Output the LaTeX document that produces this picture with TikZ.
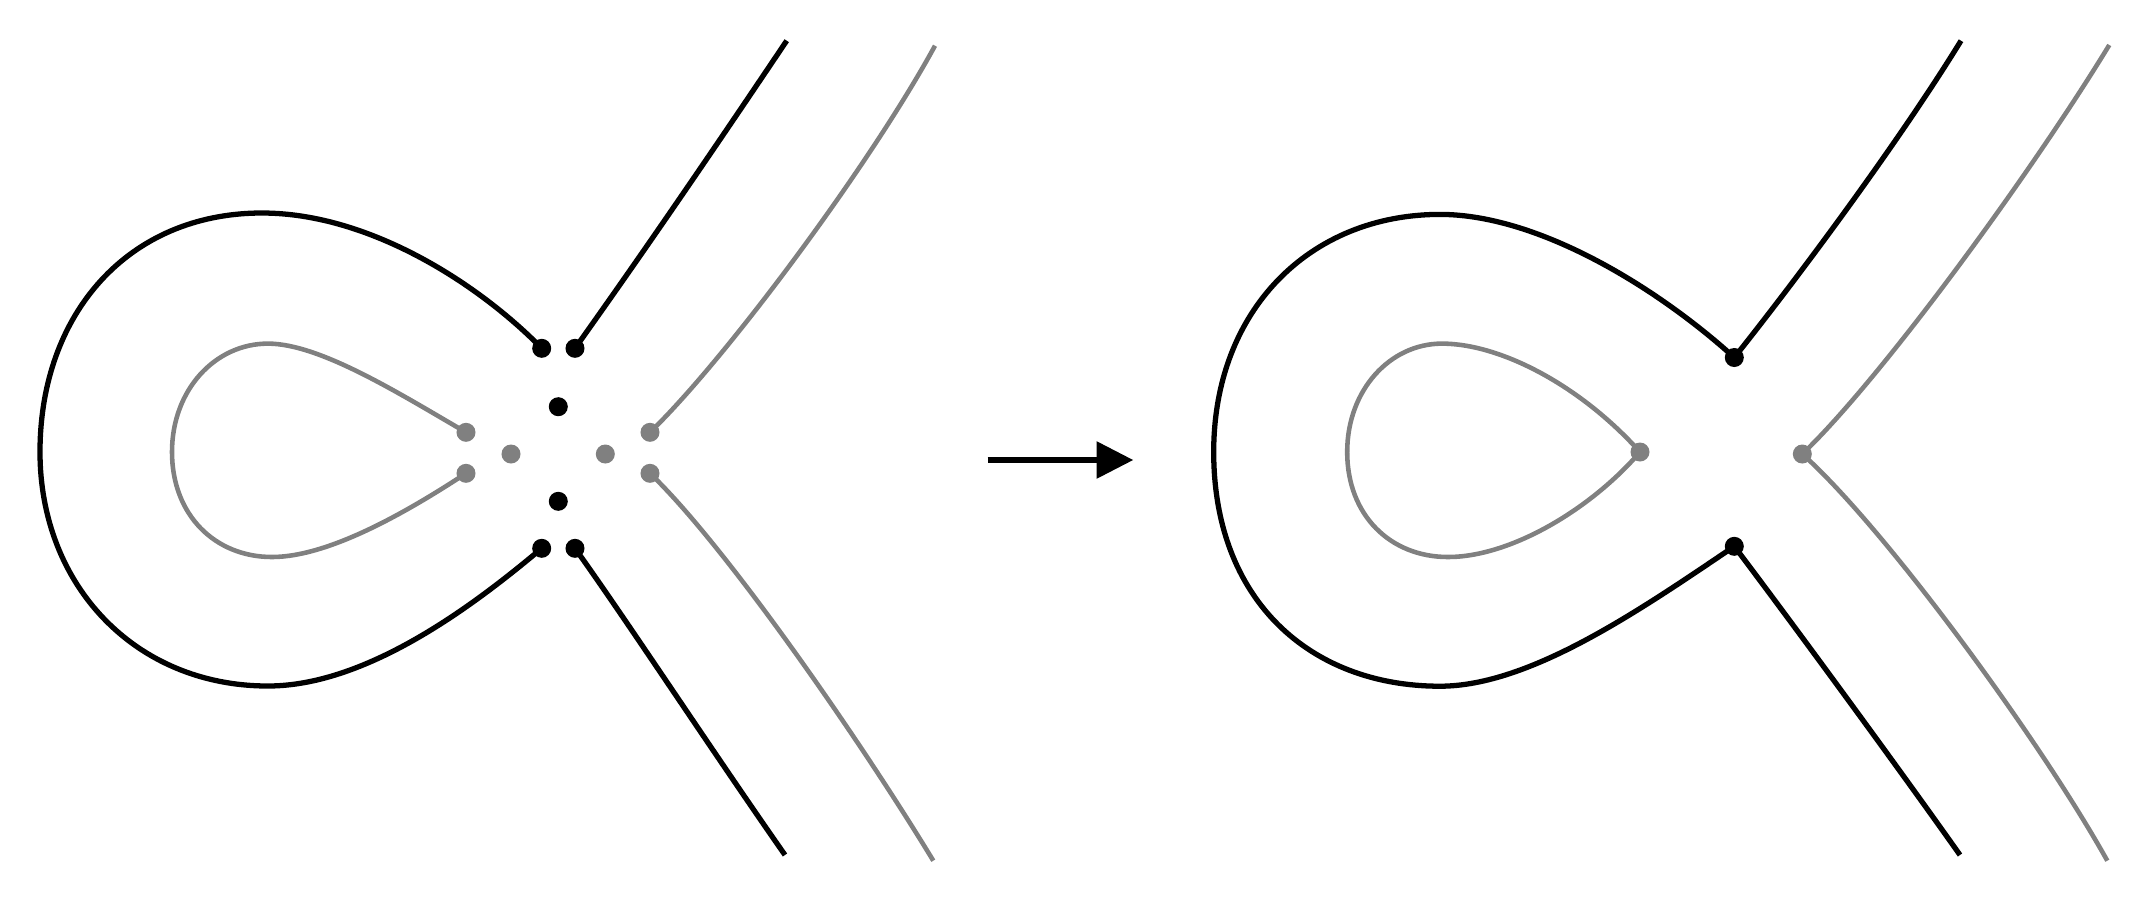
\documentclass[tikz,border=0pt]{standalone}
\usetikzlibrary{arrows.meta}
\begin{document}
\begin{tikzpicture}[x=0.01cm,y=-0.01cm,
  bdot/.style={circle,fill=black,inner sep=0pt,minimum size=0.19cm},
  gdot/.style={circle,fill=gray,inner sep=0pt,minimum size=0.19cm},
  bline/.style={line width=1.5pt,draw=black},
  gline/.style={line width=1.3pt,draw=gray},
  arrowline/.style={line width=1.55pt,-{Triangle[length=0.366cm,width=0.36cm]}}]
\useasboundingbox (0,0) rectangle (2150,902);
% ---------- left figure ----------
\node[bdot] (L1) at (541.7,348.3) {};
\node[bdot] (L2) at (575,348.3) {};
\node[bdot] (L3) at (558.3,406.7) {};
\node[bdot] (L4) at (558.3,501.3) {};
\node[bdot] (L5) at (541.7,548.3) {};
\node[bdot] (L6) at (575,548.3) {};
\node[gdot] (G1) at (466,432.3) {};
\node[gdot] (G2) at (466,473.3) {};
\node[gdot] (G3) at (511,454) {};
\node[gdot] (G4) at (605.3,454) {};
\node[gdot] (G5) at (650,432.3) {};
\node[gdot] (G6) at (650,473.3) {};
\coordinate (LE1) at (786.7,40.7);
\coordinate (LE2) at (785,855);
\coordinate (GE1) at (935,45.7);
\coordinate (GE2) at (933.3,860.7);
\draw[bline] (L1.center) .. controls (480,285) and (370,213) .. (262,213)
  .. controls (128,213) and (40,314) .. (40,452)
  .. controls (40,585) and (135,686) .. (268,686)
  .. controls (370,686) and (480,600) .. (L5.center);
\draw[gline] (G1.center) .. controls (400,394) and (320,343.6) .. (268,343.6)
  .. controls (215,343.6) and (172,390) .. (172,452)
  .. controls (172,515) and (215,557) .. (272,557)
  .. controls (330,557) and (410,510) .. (G2.center);
\draw[bline] (L2.center) .. controls (650,243) and (720,140) .. (LE1);
\draw[bline] (L6.center) .. controls (625,618) and (715,755) .. (LE2);
\draw[gline] (G5.center) .. controls (725,360) and (870,165) .. (GE1);
\draw[gline] (G6.center) .. controls (725,545) and (860,740) .. (GE2);
% ---------- arrow ----------
\coordinate (A1) at (987.7,460);
\coordinate (A2) at (1133.3,460);
\draw[arrowline] (A1) -- (A2);
% ---------- right figure ----------
\node[bdot] (R1) at (1734.3,357.5) {};
\node[bdot] (R2) at (1734.3,546.3) {};
\node[gdot] (R3) at (1640,452) {};
\node[gdot] (R4) at (1802.3,454) {};
\coordinate (RE1) at (1961,40.7);
\coordinate (RE2) at (1960,855);
\coordinate (GE3) at (2109.3,45);
\coordinate (GE4) at (2107.3,860.7);
\draw[bline] (R1.center) .. controls (1660,290) and (1540,214.4) .. (1440,214.4)
  .. controls (1310,214.4) and (1213.7,310) .. (1213.7,452)
  .. controls (1213.7,600) and (1310,686.2) .. (1440,686.2)
  .. controls (1530,686.2) and (1640,610) .. (R2.center);
\draw[gline] (R3.center) .. controls (1580,385) and (1500,343.6) .. (1442,343.6)
  .. controls (1390,343.6) and (1347.2,390) .. (1347.2,452)
  .. controls (1347.2,515) and (1390,557) .. (1448,557)
  .. controls (1510,557) and (1590,510) .. (R3.center);
\draw[bline] (R1.center) .. controls (1800,275) and (1900,140) .. (RE1);
\draw[bline] (R2.center) .. controls (1790,620) and (1900,770) .. (RE2);
\draw[gline] (R4.center) .. controls (1880,380) and (2030,175) .. (GE3);
\draw[gline] (R4.center) .. controls (1885,528) and (2040,740) .. (GE4);
\end{tikzpicture}
\end{document}
